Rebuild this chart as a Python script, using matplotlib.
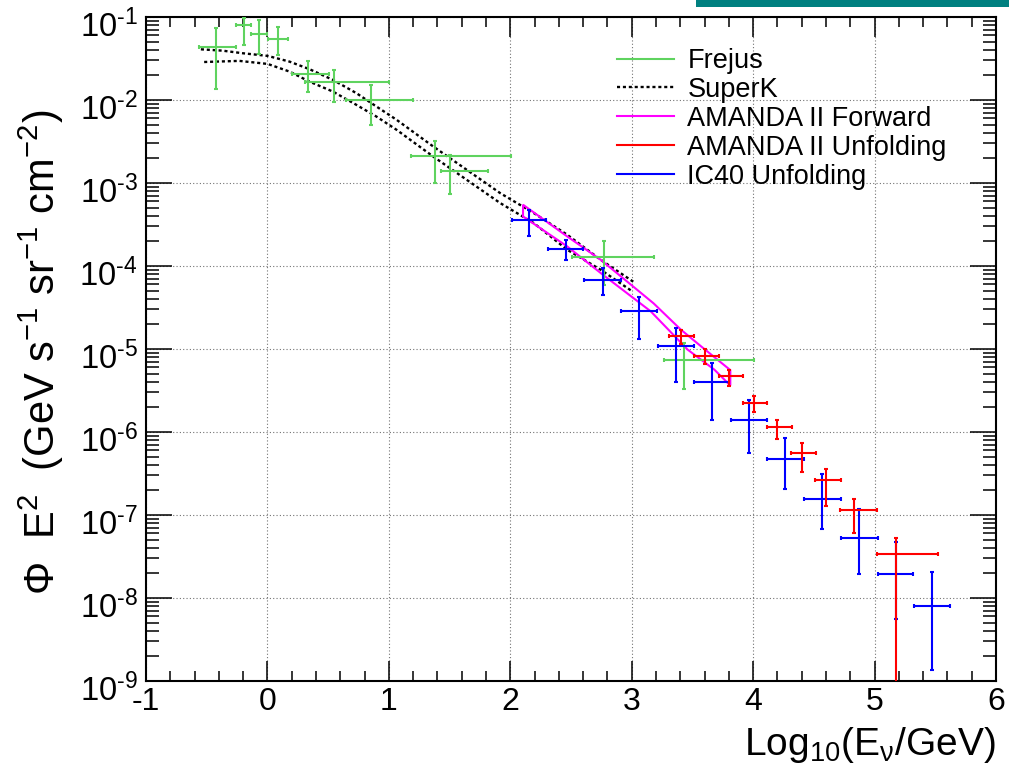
import matplotlib
matplotlib.use("Agg")
import matplotlib.pyplot as plt
import numpy as np
from matplotlib.ticker import MultipleLocator, LogLocator, NullFormatter, FuncFormatter
from matplotlib.lines import Line2D
from matplotlib.patches import Rectangle, Polygon
from matplotlib.transforms import ScaledTranslation

plt.rcParams['font.family'] = ['Liberation Sans', 'DejaVu Sans']
plt.rcParams['mathtext.fontset'] = 'custom'
plt.rcParams['mathtext.rm'] = 'Liberation Sans'
plt.rcParams['mathtext.it'] = 'Liberation Sans:italic'
plt.rcParams['mathtext.bf'] = 'Liberation Sans:bold'
plt.rcParams['axes.unicode_minus'] = False

# ---------------- data ----------------
# Frejus
frejus_x = [-0.424, -0.196, -0.066, 0.085, 0.333, 0.545, 0.849, 1.383, 1.504, 2.771, 3.427]
frejus_xlo = [-0.562, -0.259, -0.136, 0.003, 0.204, 0.306, 0.650, 1.179, 1.426, 2.510, 3.267]
frejus_xhi = [-0.259, -0.136, -0.003, 0.168, 0.507, 1.003, 1.200, 2.008, 1.818, 3.184, 4.010]
frejus_y = [0.0432, 0.080, 0.063, 0.0548, 0.0208, 0.0164, 0.0100, 0.00212, 0.00139, 1.27e-4, 7.45e-6]
frejus_ylo = [0.0136, 0.046, 0.0359, 0.035, 0.0124, 0.0094, 0.0050, 0.00101, 0.00074, 5.96e-5, 3.33e-6]
frejus_yhi = [0.0738, 0.098, 0.092, 0.075, 0.0298, 0.0232, 0.0153, 0.00322, 0.00218, 1.98e-4, 1.18e-5]

# SuperK band (upper and lower curves)
superk_up_x = [-0.548, -0.369, -0.204, 0.002, 0.182, 0.347, 0.540, 0.733, 0.898, 1.064,
               1.366, 1.642, 1.917, 2.193, 2.469, 2.744, 3.019]
superk_up_y = [0.0408, 0.0393, 0.0366, 0.0340, 0.0290, 0.0235, 0.01746, 0.01208, 0.00834, 0.00577,
               0.00275, 0.00144, 7.55e-4, 4.35e-4, 2.38e-4, 1.19e-4, 6.38e-5]
superk_lo_x = [-0.521, -0.231, 0.002, 0.182, 0.347, 0.540, 0.733, 0.898, 1.064,
               1.366, 1.642, 1.917, 2.193, 2.469, 2.744, 3.008]
superk_lo_y = [0.0287, 0.0296, 0.0272, 0.0220, 0.01663, 0.01262, 0.00873, 0.00631, 0.00437,
               0.00208, 0.00109, 5.73e-4, 3.29e-4, 1.57e-4, 9.02e-5, 4.91e-5]

# AMANDA II Forward band (closed outline: upper edge, lower edge)
amf_up_x = [2.105, 2.469, 2.744, 3.180, 3.405, 3.570, 3.812]
amf_up_y = [5.47e-4, 2.27e-4, 1.19e-4, 3.55e-5, 1.71e-5, 1.08e-5, 5.57e-6]
amf_lo_x = [2.105, 2.469, 2.744, 3.157, 3.460, 3.680, 3.812]
amf_lo_y = [3.95e-4, 1.72e-4, 8.24e-5, 2.84e-5, 9.84e-6, 5.65e-6, 3.63e-6]

# AMANDA II Unfolding
amu_x = [3.405, 3.603, 3.799, 4.003, 4.198, 4.405, 4.603, 4.832, 5.176]
amu_xlo = [3.308, 3.510, 3.716, 3.915, 4.113, 4.314, 4.512, 4.719, 5.017]
amu_xhi = [3.515, 3.722, 3.920, 4.116, 4.322, 4.521, 4.722, 5.019, 5.521]
amu_y = [1.42e-5, 8.34e-6, 4.70e-6, 2.24e-6, 1.15e-6, 5.56e-7, 2.61e-7, 1.135e-7, 3.42e-8]
amu_ylo = [1.16e-5, 6.67e-6, 3.56e-6, 1.73e-6, 8.13e-7, 3.28e-7, 1.28e-7, 6.01e-8, 1e-12]
amu_yhi = [1.71e-5, 1.00e-5, 5.65e-6, 2.75e-6, 1.41e-6, 7.41e-7, 3.54e-7, 1.57e-7, 5.33e-8]

# IC40 Unfolding
ic_x = [2.157, 2.455, 2.760, 3.061, 3.364, 3.661, 3.964, 4.262, 4.568, 4.870, 5.174, 5.471]
ic_xlo = [2.014, 2.311, 2.606, 2.909, 3.217, 3.515, 3.818, 4.116, 4.419, 4.722, 5.025, 5.328]
ic_xhi = [2.298, 2.597, 2.909, 3.212, 3.510, 3.804, 4.113, 4.419, 4.722, 5.025, 5.320, 5.625]
ic_y = [3.61e-4, 1.61e-4, 6.84e-5, 2.84e-5, 1.08e-5, 4.02e-6, 1.39e-6, 4.67e-7, 1.54e-7, 5.33e-8, 1.97e-8, 8.0e-9]
ic_ylo = [2.32e-4, 1.19e-4, 4.52e-5, 1.32e-5, 4.02e-6, 1.41e-6, 5.51e-7, 2.07e-7, 6.71e-8, 1.93e-8, 5.55e-9, 1.36e-9]
ic_yhi = [4.75e-4, 2.03e-4, 9.46e-5, 4.19e-5, 1.81e-5, 6.81e-6, 2.46e-6, 8.51e-7, 3.08e-7, 1.17e-7, 4.76e-8, 2.06e-8]

legend_labels = ["Frejus", "SuperK", "AMANDA II Forward", "AMANDA II Unfolding", "IC40 Unfolding"]

# ---------------- style ----------------
C_GREEN = '#5fd35f'
C_BLACK = '#000000'
C_MAG = '#ff00ff'
C_RED = '#ff0000'
C_BLUE = '#0000ff'
LW = 1.5
SK_LS = (0, (1.3, 1.2))

fig = plt.figure(figsize=(10.09, 7.78), dpi=100)
ax = fig.add_axes([146/1009, 1-681/778, 850/1009, 664/778])

def errbars(x, xlo, xhi, y, ylo, yhi, color):
    x = np.asarray(x); y = np.asarray(y)
    xerr = [x - np.asarray(xlo), np.asarray(xhi) - x]
    yerr = [y - np.asarray(ylo), np.asarray(yhi) - y]
    ax.errorbar(x, y, xerr=xerr, yerr=yerr, fmt='none', ecolor=color,
                elinewidth=LW, capsize=1.6, capthick=LW, zorder=3)

# SuperK
sk_style = dict(color=C_BLACK, lw=1.7, linestyle=SK_LS, zorder=2)
ax.plot(superk_up_x, superk_up_y, **sk_style)
ax.plot(superk_lo_x, superk_lo_y, **sk_style)

# AMANDA forward outline
poly_x = list(amf_up_x) + list(amf_lo_x[::-1])
poly_y = list(amf_up_y) + list(amf_lo_y[::-1])
ax.add_patch(Polygon(np.column_stack([poly_x, poly_y]), closed=True, fill=False,
                     edgecolor=C_MAG, lw=LW, zorder=2.5))

errbars(frejus_x, frejus_xlo, frejus_xhi, frejus_y, frejus_ylo, frejus_yhi, C_GREEN)
errbars(ic_x, ic_xlo, ic_xhi, ic_y, ic_ylo, ic_yhi, C_BLUE)
errbars(amu_x, amu_xlo, amu_xhi, amu_y, amu_ylo, amu_yhi, C_RED)

ax.set_yscale('log')
ax.set_xlim(-1, 6)
ax.set_ylim(1e-9, 1e-1)

ax.xaxis.set_major_locator(MultipleLocator(1))
ax.xaxis.set_minor_locator(MultipleLocator(0.2))
ax.yaxis.set_major_locator(LogLocator(base=10, numticks=20))
ax.yaxis.set_minor_locator(LogLocator(base=10, subs=np.arange(2, 10), numticks=100))
ax.yaxis.set_minor_formatter(NullFormatter())
ax.yaxis.set_major_formatter(FuncFormatter(
    lambda v, pos: r'$\mathdefault{10^{\text{%d}}}$' % int(round(np.log10(v)))))

ax.tick_params(which='both', direction='in', top=True, right=True, width=1.1, colors='black')
ax.tick_params(axis='x', which='major', length=14.4, labelsize=23, pad=4)
ax.tick_params(axis='x', which='minor', length=7.2)
ax.tick_params(axis='y', which='major', length=18.4, labelsize=23.5, pad=6)
ax.tick_params(axis='y', which='minor', length=9.2)
for s in ax.spines.values():
    s.set_linewidth(1.5)

ax.grid(True, which='major', color='0.45', lw=0.8, linestyle=(0, (1, 2)))
ax.set_axisbelow(True)

# legend
handles = [Line2D([], [], color=C_GREEN, lw=LW),
           Line2D([], [], color=C_BLACK, lw=1.7, linestyle=SK_LS),
           Line2D([], [], color=C_MAG, lw=LW),
           Line2D([], [], color=C_RED, lw=LW),
           Line2D([], [], color=C_BLUE, lw=LW)]
leg = ax.legend(handles, legend_labels, loc='upper left',
                bbox_to_anchor=((617-146)/850, (681-48)/664), frameon=False,
                fontsize=19.5, handlelength=2.1, handletextpad=0.5, labelspacing=0.11,
                borderpad=0, borderaxespad=0)

# axis titles
fig.text(996/1009, 1-755/778, r'Log$_{10}$(E$_{\mathrm{\nu}}$/GeV)', ha='right', va='baseline', fontsize=28)
fig.text(41/1009, 1-352/778, r'$\Phi$  E$^{2}$  (GeV s$^{-1}$ sr$^{-1}$ cm$^{-2}$)',
         ha='center', va='center', rotation=90, fontsize=30)

# teal decoration bar at top-right
fig.patches.append(Rectangle((696/1009, 1-7/778), 1-696/1009, 7/778, transform=fig.transFigure,
                             facecolor='#008080', edgecolor='none'))

# shift y tick labels slightly downward (as in the reference)
fig.canvas.draw()
shift = ScaledTranslation(0, -6/100, fig.dpi_scale_trans)
for t in ax.yaxis.get_major_ticks():
    t.label1.set_transform(t.label1.get_transform() + shift)

fig.savefig('out.png', dpi=100)
